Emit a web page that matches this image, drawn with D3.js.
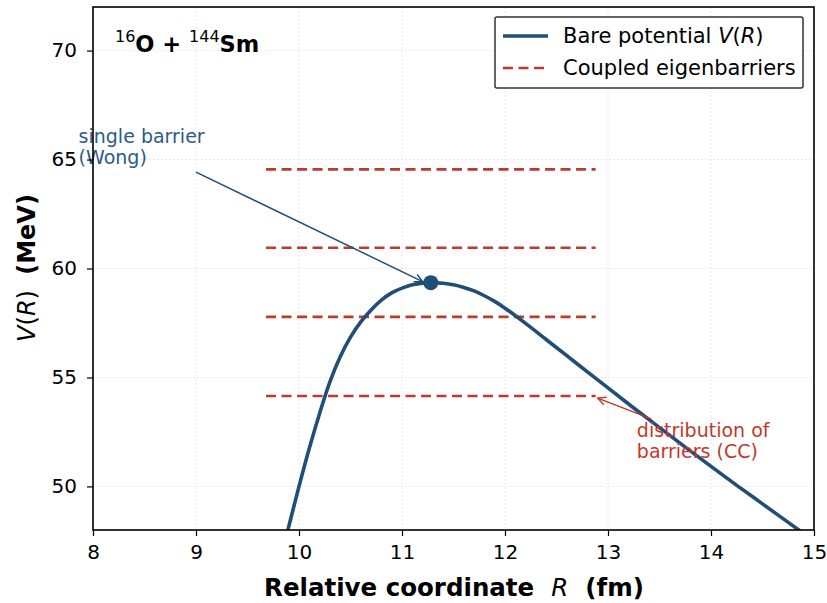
<!DOCTYPE html>
<html>
<head>
<meta charset="utf-8">
<script src="https://cdn.jsdelivr.net/npm/d3@7"></script>
<style>
  body { margin: 0; background: #fff; }
  svg { font-family: "DejaVu Sans", sans-serif; }
  text { white-space: pre; }
</style>
</head>
<body>
<div id="chart"></div>
<script>
// bare potential V(R) (ends run past the frame and are clipped)
const radius = [9.8, 9.9, 10.0, 10.1, 10.2, 10.3, 10.4, 10.5, 10.6, 10.7, 10.8, 10.9, 11.0, 11.1, 11.2, 11.28,
                11.4, 11.5, 11.6, 11.7, 11.8, 11.9, 12.0, 12.2, 12.4, 12.6, 12.8, 13.0, 13.25, 13.5, 13.75, 14.0, 14.25, 14.5, 14.75, 15.0];
const potential = [46.3, 48.15, 50.0, 51.75, 53.35, 54.8, 55.95, 56.85, 57.55, 58.1, 58.55, 58.88, 59.1, 59.25, 59.33, 59.35,
                   59.32, 59.25, 59.13, 58.97, 58.75, 58.49, 58.18, 57.48, 56.74, 56.0, 55.26, 54.52, 53.6, 52.7, 51.8, 50.92, 50.05, 49.2, 48.35, 47.5];

// coupled eigenbarriers
const eigenBarriers = [64.55, 60.95, 57.78, 54.15];
const eigenRange = [9.68, 12.88];

// Wong barrier
const barrierR = 11.28, barrierV = 59.35;

const xTicks = [8, 9, 10, 11, 12, 13, 14, 15];
const yTicks = [50, 55, 60, 65, 70];

const blue = "#1f4e79", red = "#c0392b";

const margin = {top: 7, right: 13, bottom: 73, left: 93},
    width = 827 - margin.left - margin.right,
    height = 603 - margin.top - margin.bottom;

const svg = d3.select("#chart").append("svg")
    .attr("width", 827)
    .attr("height", 603);

const defs = svg.append("defs");
defs.append("clipPath").attr("id", "clip")
    .append("rect").attr("width", width).attr("height", height);

function arrowHead(id, color) {
    defs.append("marker")
        .attr("id", id)
        .attr("viewBox", "0 0 10 10")
        .attr("refX", 9).attr("refY", 5)
        .attr("markerWidth", 10).attr("markerHeight", 10)
        .attr("markerUnits", "userSpaceOnUse")
        .attr("orient", "auto")
        .append("path")
        .attr("d", "M1,1 L9,5 L1,9")
        .attr("fill", "none")
        .attr("stroke", color)
        .attr("stroke-width", 1.4);
}
arrowHead("arrBlue", blue);
arrowHead("arrRed", red);

const g = svg.append("g")
    .attr("transform", "translate(" + margin.left + "," + margin.top + ")");

var x = d3.scaleLinear().domain([8, 15]).range([0, width]);
var y = d3.scaleLinear().domain([48, 72]).range([height, 0]);

// grid
g.append("g").selectAll("line").data(xTicks.slice(1, -1)).join("line")
    .attr("x1", d => x(d)).attr("x2", d => x(d))
    .attr("y1", 0).attr("y2", height)
    .style("stroke", "#d9d9d9").style("stroke-dasharray", "1.5,2.5").style("stroke-width", 0.8);
g.append("g").selectAll("line").data(yTicks).join("line")
    .attr("x1", 0).attr("x2", width)
    .attr("y1", d => y(d)).attr("y2", d => y(d))
    .style("stroke", "#d9d9d9").style("stroke-dasharray", "1.5,2.5").style("stroke-width", 0.8);

// eigenbarriers
g.append("g").selectAll("line").data(eigenBarriers).join("line")
    .attr("x1", x(eigenRange[0])).attr("x2", x(eigenRange[1]))
    .attr("y1", d => y(d)).attr("y2", d => y(d))
    .style("stroke", red).style("stroke-width", 2.6).style("stroke-dasharray", "10,5.5");

// bare potential
const pts = radius.map((r, i) => [r, potential[i]]);
g.append("path")
    .datum(pts)
    .attr("clip-path", "url(#clip)")
    .attr("fill", "none")
    .attr("stroke", blue)
    .attr("stroke-width", 3.6)
    .attr("d", d3.line().x(d => x(d[0])).y(d => y(d[1])).curve(d3.curveCatmullRom.alpha(0.5)));

g.append("circle")
    .attr("cx", x(barrierR)).attr("cy", y(barrierV)).attr("r", 7.5)
    .attr("fill", blue);

// annotations
g.append("line")
    .attr("x1", x(9.0)).attr("y1", y(64.42))
    .attr("x2", x(11.2)).attr("y2", y(59.4))
    .attr("stroke", blue).attr("stroke-width", 1.5)
    .attr("marker-end", "url(#arrBlue)");
const wong = g.append("text")
    .attr("fill", "#2b5b8a").style("font-size", "19px");
wong.append("tspan").attr("x", x(7.86)).attr("y", 136).text("single barrier");
wong.append("tspan").attr("x", x(7.86)).attr("y", 157).text("(Wong)");

g.append("line")
    .attr("x1", x(13.42)).attr("y1", y(53.1))
    .attr("x2", x(12.9)).attr("y2", y(54.05))
    .attr("stroke", red).attr("stroke-width", 1.5)
    .attr("marker-end", "url(#arrRed)");
const cc = g.append("text")
    .attr("fill", red).style("font-size", "19px");
cc.append("tspan").attr("x", x(13.28)).attr("y", y(52.25)).text("distribution of");
cc.append("tspan").attr("x", x(13.28)).attr("y", y(52.25) + 21).text("barriers (CC)");

// title
const title = g.append("text")
    .attr("x", 22).attr("y", 45)
    .style("font-size", "22.5px").style("font-weight", "bold");
title.append("tspan").attr("dy", -10).style("font-size", "16px").style("font-weight", "normal").text("16");
title.append("tspan").attr("dy", 10).text("O + ");
title.append("tspan").attr("dy", -10).style("font-size", "16px").style("font-weight", "normal").text("144");
title.append("tspan").attr("dy", 10).text("Sm");

// axes
const xAxis = g.append("g")
    .attr("transform", "translate(0," + height + ")")
    .call(d3.axisBottom(x).tickValues(xTicks).tickFormat(d3.format("d")).tickSize(6).tickPadding(9));
const yAxis = g.append("g")
    .call(d3.axisLeft(y).tickValues(yTicks).tickFormat(d3.format("d")).tickSize(6).tickPadding(10));
[xAxis, yAxis].forEach(a => {
    a.select(".domain").remove();
    a.selectAll("text").style("font-size", "20px").style("font-family", "DejaVu Sans").attr("fill", "#000");
    a.selectAll("line").attr("stroke", "#000").attr("stroke-width", 1.2);
});

g.append("rect")
    .attr("width", width).attr("height", height)
    .attr("fill", "none").attr("stroke", "#000").attr("stroke-width", 1.6);

// axis labels
const xl = svg.append("text")
    .attr("x", 454).attr("y", 596)
    .attr("text-anchor", "middle")
    .style("font-size", "24.5px").style("font-weight", "bold");
xl.append("tspan").text("Relative coordinate  ");
xl.append("tspan").style("font-style", "italic").style("font-weight", "normal").text("R");
xl.append("tspan").text("  (fm)");

const yl = svg.append("text")
    .attr("transform", "translate(35,268) rotate(-90)")
    .attr("text-anchor", "middle")
    .style("font-size", "24px");
yl.append("tspan").style("font-style", "italic").text("V");
yl.append("tspan").text("(");
yl.append("tspan").style("font-style", "italic").text("R");
yl.append("tspan").text(")  ");
yl.append("tspan").style("font-weight", "bold").text("(MeV)");

// legend
const lg = svg.append("g").attr("transform", "translate(495,17)");
lg.append("rect")
    .attr("width", 308).attr("height", 71).attr("rx", 2)
    .attr("fill", "#fff").attr("stroke", "#333").attr("stroke-width", 1.5);
lg.append("line").attr("x1", 8).attr("x2", 53).attr("y1", 19).attr("y2", 19)
    .attr("stroke", blue).attr("stroke-width", 3.6);
lg.append("line").attr("x1", 8).attr("x2", 53).attr("y1", 51).attr("y2", 51)
    .attr("stroke", red).attr("stroke-width", 2.6).attr("stroke-dasharray", "10,5.5");
const l1 = lg.append("text").attr("x", 68).attr("y", 26).style("font-size", "21px");
l1.append("tspan").text("Bare potential ");
l1.append("tspan").style("font-style", "italic").text("V");
l1.append("tspan").text("(");
l1.append("tspan").style("font-style", "italic").text("R");
l1.append("tspan").text(")");
lg.append("text").attr("x", 68).attr("y", 58).style("font-size", "21px").text("Coupled eigenbarriers");
</script>
</body>
</html>
